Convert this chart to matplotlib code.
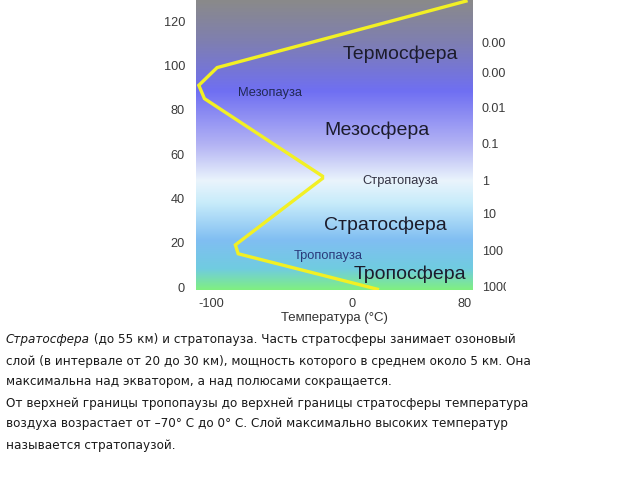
import matplotlib
matplotlib.use("Agg")
import matplotlib.pyplot as plt
import numpy as np
from matplotlib import font_manager
from matplotlib.colors import LinearSegmentedColormap
from matplotlib.patches import Rectangle
from matplotlib.transforms import blended_transform_factory

# temperature profile (degC) vs altitude (km)
temperature = [18, -81, -83, -21, -21, -105, -109, -96, 81]
altitude = [-1, 15, 19, 49, 50, 85, 91, 99, 129]

altitude_ticks = [0, 20, 40, 60, 80, 100, 120]
temp_ticks = [-100, 0, 80]

pressure_labels = ["0.00", "0.00", "0.01", "0.1", "1", "10", "100", "1000"]
pressure_heights = [109.7, 96, 80.5, 64, 47.6, 32.4, 15.7, -0.4]

layer_names = ["Термосфера", "Мезосфера", "Стратосфера", "Тропосфера"]
layer_temp = [34, 18, 24, 41]
layer_alt = [105, 70.6, 27.9, 5.8]

pause_names = ["Мезопауза", "Стратопауза", "Тропопауза"]
pause_temp = [-58.6, 34.3, -17.1]
pause_alt = [87.6, 48, 14]
pause_colors = ["#222a55", "#333344", "#2a3a7a"]

# background gradient stops (altitude km, colour)
grad_alt = [-1.5, 8, 21, 38, 48, 64, 88.5, 111, 129.5]
grad_col = ["#80f080", "#70cce0", "#80bef2", "#c8ecfa", "#eaf4fc",
            "#b4b4f4", "#6f6ff2", "#7f7fb0", "#8a8a8a"]

paragraph_italic = "Стратосфера"
paragraph_first = " (до 55 км) и стратопауза. Часть стратосферы занимает озоновый"
paragraph_rest = [
    "слой (в интервале от 20 до 30 км), мощность которого в среднем около 5 км. Она",
    "максимальна над экватором, а над полюсами сокращается.",
    "От верхней границы тропопаузы до верхней границы стратосферы температура",
    "воздуха возрастает от –70° C до 0° C. Слой максимально высоких температур",
    "называется стратопаузой.",
]

plt.rcParams["font.family"] = ["Liberation Sans", "DejaVu Sans"]
plt.rcParams["axes.unicode_minus"] = False

# narrow face for the paragraph if one is installed
pkw = {"family": ["Liberation Sans", "DejaVu Sans"]}
pkw_it = dict(pkw, style="italic")
narrow = [f for f in font_manager.fontManager.ttflist
          if ("Narrow" in f.fname or "Condensed" in f.fname) and "Bold" not in f.fname
          and ("Liberation" in f.fname or "DejaVuSans" in f.fname)
          and "Mono" not in f.fname]
upright = [f for f in narrow if "Italic" not in f.fname and "Oblique" not in f.fname]
slanted = [f for f in narrow if "Italic" in f.fname or "Oblique" in f.fname]
if upright:
    upright.sort(key=lambda f: "Liberation" not in f.fname)
    pkw = {"fontproperties": font_manager.FontProperties(fname=upright[0].fname)}
    pkw_it = dict(pkw)
    if slanted:
        slanted.sort(key=lambda f: "Liberation" not in f.fname)
        pkw_it = {"fontproperties": font_manager.FontProperties(fname=slanted[0].fname)}

fig = plt.figure(figsize=(6.4, 4.8), dpi=100)
ax = fig.add_axes([196 / 640, 1 - 290 / 480, 277 / 640, 290 / 480])

xmin, xmax = -111, 86
ymin, ymax = -1.35, 129.5

lo, hi = grad_alt[0], grad_alt[-1]
stops = [((h - lo) / (hi - lo), c) for h, c in zip(grad_alt, grad_col)]
cmap = LinearSegmentedColormap.from_list("atmo", stops)
grad = np.linspace(0, 1, 512).reshape(-1, 1)
ax.imshow(grad, cmap=cmap, origin="lower", aspect="auto",
          extent=[xmin, xmax, lo, hi], zorder=0)

ax.plot(temperature, altitude, color="#f2f024", lw=2.4, solid_joinstyle="miter", zorder=3)

ax.set_xlim(xmin, xmax)
ax.set_ylim(ymin, ymax)
for s in ax.spines.values():
    s.set_visible(False)
ax.set_xticks(temp_ticks)
ax.set_yticks(altitude_ticks)
ax.tick_params(length=0, labelsize=9.2, labelcolor="#3a3a3a")
ax.tick_params(axis="y", pad=8)
ax.tick_params(axis="x", pad=6)
ax.set_xlabel("Температура (°C)", fontsize=9.5, color="#333333", labelpad=1)

for name, t, h in zip(layer_names, layer_temp, layer_alt):
    ax.text(t, h, name, fontsize=14, color="#1c1c2c", ha="center", va="center", zorder=4)
for name, t, h, c in zip(pause_names, pause_temp, pause_alt, pause_colors):
    ax.text(t, h, name, fontsize=9.3, color=c, ha="center", va="center", zorder=4)

# right-hand pressure column, cut off at the picture edge like the source image
clip = Rectangle((0, 0), 506, 480, transform=None)
ptrans = blended_transform_factory(fig.transFigure, ax.transData)
for lab, h in zip(pressure_labels, pressure_heights):
    tx = fig.text(482 / 640, h, lab, transform=ptrans, fontsize=9,
                  color="#3a3a3a", ha="left", va="center", clip_on=True)
    tx.set_clip_path(clip)

# paragraph below the chart
renderer = fig.canvas.get_renderer()
line_y = [340, 361, 382, 403, 424, 445]
x0 = 6 / 640


def text_width(text, size, **kw):
    probe = fig.text(0, 0, text, **kw)
    probe.set_fontsize(size)
    w = probe.get_window_extent(renderer=renderer).width
    probe.remove()
    return w


def put(x, y, text, size, **kw):
    t = fig.text(x, y, text, color="#1a1a1a", va="center", **kw)
    t.set_fontsize(size)
    return t


w_line = text_width(paragraph_italic, 12, **pkw_it) + text_width(paragraph_first, 12, **pkw)
fs = min(12 * 510 / w_line, 11.5)

t0 = put(x0, 1 - line_y[0] / 480, paragraph_italic, fs, **pkw_it)
bb = t0.get_window_extent(renderer=renderer)
put(bb.x1 / 640, 1 - line_y[0] / 480, paragraph_first, fs, **pkw)
for line, y in zip(paragraph_rest, line_y[1:]):
    put(x0, 1 - y / 480, line, fs, **pkw)

fig.savefig("out.png", dpi=100)
